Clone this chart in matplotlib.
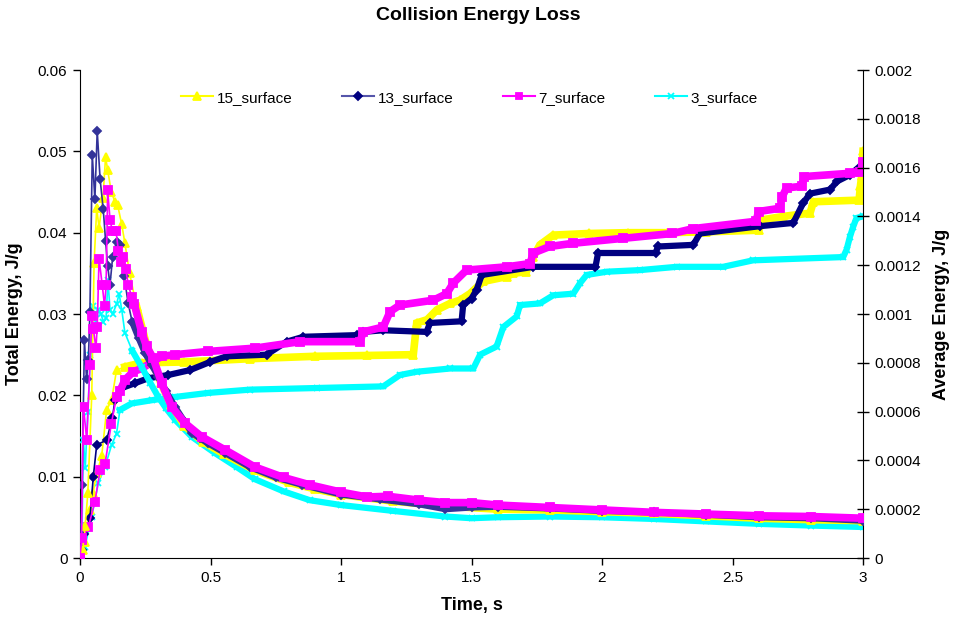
import numpy as np
import matplotlib
matplotlib.use("Agg")
import matplotlib.pyplot as plt
from matplotlib.lines import Line2D
from matplotlib.ticker import FuncFormatter, MultipleLocator

plt.rcParams['font.family'] = ['Liberation Sans', 'DejaVu Sans']

# ---- total energy (left axis, J/g) ----
t_tot15 = [0, 0.02, 0.038, 0.05, 0.064, 0.083, 0.102, 0.121, 0.14, 0.172, 0.236, 0.4, 0.65, 0.9, 1.1,
           1.277, 1.29, 1.33, 1.367, 1.418, 1.456, 1.494, 1.545, 1.635, 1.66, 1.71, 1.737, 1.762, 1.813,
           1.95, 2.1, 2.25, 2.4, 2.6, 2.618, 2.695, 2.797, 2.81, 2.985, 2.99, 2.995, 3.0]
tot15 = [0, 0.002, 0.0059, 0.008, 0.0104, 0.0125, 0.0182, 0.0194, 0.0231, 0.0235, 0.024, 0.0241, 0.0245,
         0.0248, 0.0249, 0.025, 0.0289, 0.0293, 0.0305, 0.0313, 0.0317, 0.0325, 0.034, 0.0346, 0.035,
         0.0352, 0.037, 0.0385, 0.0397, 0.0399, 0.04, 0.04, 0.0401, 0.0403, 0.0416, 0.042, 0.0424, 0.0438,
         0.044, 0.0457, 0.047, 0.050]

t_tot13 = [0, 0.008, 0.017, 0.038, 0.051, 0.064, 0.102, 0.124, 0.134, 0.16, 0.211, 0.262, 0.338, 0.421,
           0.498, 0.562, 0.715, 0.792, 0.856, 1.06, 1.085, 1.162, 1.328, 1.341, 1.462, 1.468, 1.5, 1.52,
           1.539, 1.737, 1.975, 1.985, 2.205, 2.215, 2.35, 2.375, 2.605, 2.733, 2.77, 2.797, 2.874, 2.9,
           2.95, 3.0]
tot13 = [0, 0.001, 0.003, 0.0049, 0.01, 0.0139, 0.0145, 0.0172, 0.0194, 0.0209, 0.0215, 0.0221, 0.0225,
         0.0231, 0.0241, 0.0248, 0.025, 0.0266, 0.0272, 0.0274, 0.0278, 0.028, 0.0278, 0.0289, 0.0291,
         0.0311, 0.0319, 0.033, 0.0348, 0.0358, 0.0358, 0.0375, 0.0375, 0.0383, 0.0385, 0.0399, 0.0408,
         0.0412, 0.0436, 0.0448, 0.0453, 0.0463, 0.0471, 0.0485]

t_tot7 = [0, 0.006, 0.032, 0.057, 0.077, 0.096, 0.12, 0.14, 0.153, 0.172, 0.204, 0.236, 0.313, 0.364,
          0.492, 0.67, 0.843, 1.073, 1.085, 1.162, 1.188, 1.226, 1.354, 1.405, 1.43, 1.481, 1.635, 1.724,
          1.737, 1.8, 1.89, 2.08, 2.27, 2.35, 2.59, 2.6, 2.682, 2.69, 2.707, 2.765, 2.775, 2.95, 2.99, 3.0]
tot7 = [0, 0.0022, 0.0038, 0.0069, 0.0108, 0.0116, 0.0165, 0.0198, 0.0205, 0.0219, 0.0229, 0.0233, 0.0248,
        0.025, 0.0254, 0.0258, 0.0266, 0.0266, 0.0278, 0.0284, 0.0303, 0.0311, 0.0317, 0.0325, 0.0338,
        0.0354, 0.0358, 0.0362, 0.0375, 0.0383, 0.0387, 0.0393, 0.0399, 0.0405, 0.0414, 0.0426, 0.043,
        0.0444, 0.0455, 0.0457, 0.0469, 0.0473, 0.0474, 0.0487]

t_tot3 = [0, 0.019, 0.045, 0.07, 0.096, 0.121, 0.14, 0.153, 0.198, 0.275, 0.364, 0.492, 0.651, 0.907,
          1.162, 1.226, 1.29, 1.418, 1.507, 1.533, 1.596, 1.622, 1.673, 1.686, 1.762, 1.813, 1.89, 1.916,
          1.941, 2.018, 2.146, 2.286, 2.464, 2.579, 2.924, 2.937, 2.95, 2.962, 2.975, 3.0]
tot3 = [0, 0.0014, 0.0051, 0.0092, 0.0112, 0.0139, 0.0153, 0.0182, 0.019, 0.0194, 0.0198, 0.0203, 0.0207,
        0.0209, 0.0211, 0.0225, 0.0229, 0.0233, 0.0233, 0.025, 0.026, 0.0284, 0.0297, 0.0311, 0.0313,
        0.0323, 0.0325, 0.0338, 0.0348, 0.0352, 0.0354, 0.0358, 0.0358, 0.0366, 0.037, 0.0379, 0.0395,
        0.0407, 0.0418, 0.042]

# ---- average energy (right axis, J/g) ----
t_avg15 = [0, 0.01, 0.02, 0.03, 0.045, 0.054, 0.064, 0.073, 0.088, 0.098, 0.106, 0.12, 0.134, 0.144, 0.16,
           0.172, 0.19, 0.217, 0.25, 0.28, 0.31, 0.35, 0.4, 0.47, 0.55, 0.67, 0.8, 0.9, 1.0, 1.2, 1.4,
           1.6, 1.8, 2.0, 2.2, 2.4, 2.6, 2.8, 3.0]
avg15 = [0, 0.000033, 0.000133, 0.000267, 0.000667, 0.00121, 0.001433, 0.001353, 0.001477, 0.001643,
         0.00159, 0.0015, 0.00146, 0.001447, 0.001367, 0.00129, 0.001167, 0.00103, 0.000893, 0.0008,
         0.000717, 0.000627, 0.000543, 0.000477, 0.000427, 0.00036, 0.00031, 0.000283, 0.00026, 0.000233,
         0.000213, 0.0002, 0.000197, 0.00019, 0.000183, 0.000173, 0.000163, 0.000157, 0.000153]

t_avg13 = [0, 0.008, 0.017, 0.025, 0.032, 0.038, 0.047, 0.057, 0.066, 0.077, 0.089, 0.098, 0.106, 0.115,
           0.125, 0.14, 0.153, 0.169, 0.184, 0.2, 0.225, 0.249, 0.275, 0.3, 0.33, 0.364, 0.4, 0.428, 0.46,
           0.49, 0.556, 0.65, 0.75, 0.85, 1.0, 1.15, 1.3, 1.4, 1.5, 1.6, 1.8, 2.0, 2.2, 2.4, 2.6, 2.8, 3.0]
avg13 = [0, 0.0003, 0.000893, 0.000733, 0.00081, 0.001007, 0.001653, 0.00147, 0.00175, 0.001553, 0.00143,
         0.0013, 0.001197, 0.00112, 0.001233, 0.001297, 0.001283, 0.001157, 0.001047, 0.000967, 0.0009,
         0.00084, 0.00079, 0.000743, 0.000683, 0.00062, 0.00056, 0.000513, 0.00049, 0.00047, 0.00043,
         0.000373, 0.00033, 0.0003, 0.00026, 0.00024, 0.00022, 0.0002, 0.000207, 0.00021, 0.000203,
         0.000193, 0.000187, 0.000177, 0.000167, 0.000163, 0.000153]

t_avg7 = [0, 0.006, 0.013, 0.026, 0.038, 0.045, 0.051, 0.061, 0.066, 0.073, 0.085, 0.094, 0.1, 0.106,
          0.115, 0.124, 0.138, 0.147, 0.157, 0.166, 0.175, 0.185, 0.198, 0.208, 0.236, 0.255, 0.28, 0.313,
          0.351, 0.402, 0.466, 0.556, 0.67, 0.78, 0.88, 1.0, 1.1, 1.18, 1.3, 1.4, 1.5, 1.6, 1.8, 2.0, 2.2,
          2.4, 2.6, 2.8, 3.0]
avg7 = [0, 0.000083, 0.00062, 0.000483, 0.00079, 0.00099, 0.00094, 0.00086, 0.000947, 0.001227, 0.00112,
        0.001033, 0.001117, 0.001507, 0.001387, 0.00134, 0.00134, 0.00126, 0.001213, 0.001233, 0.001183,
        0.00112, 0.00107, 0.00104, 0.000927, 0.000867, 0.00082, 0.000717, 0.00062, 0.000553, 0.000497,
        0.000443, 0.000373, 0.00033, 0.0003, 0.00027, 0.00025, 0.000253, 0.000237, 0.000227, 0.000227,
        0.000217, 0.000207, 0.000197, 0.000187, 0.00018, 0.000173, 0.00017, 0.000163]

t_avg3 = [0, 0.008, 0.013, 0.02, 0.03, 0.04, 0.05, 0.06, 0.07, 0.08, 0.09, 0.1, 0.107, 0.115, 0.125,
          0.14, 0.15, 0.16, 0.172, 0.2, 0.236, 0.27, 0.3, 0.33, 0.364, 0.428, 0.517, 0.6, 0.67, 0.78, 0.88,
          1.0, 1.2, 1.4, 1.5, 1.6, 1.8, 2.0, 2.2, 2.4, 2.6, 2.8, 3.0]
avg3 = [0, 0.000133, 0.000483, 0.000367, 0.0006, 0.000833, 0.001033, 0.00095, 0.001017, 0.001, 0.000967,
        0.000983, 0.00114, 0.001017, 0.001, 0.00104, 0.001083, 0.001017, 0.000923, 0.00085, 0.000783,
        0.000717, 0.00066, 0.000613, 0.000567, 0.000497, 0.00043, 0.000373, 0.000323, 0.000273,
        0.000237, 0.000217, 0.000193, 0.00017, 0.000163, 0.000167, 0.00017, 0.000167, 0.00016, 0.00015,
        0.00014, 0.000133, 0.000127]

labels = ['15_surface', '13_surface', '7_surface', '3_surface']

# colour / marker per surface
styles = {
    '15_surface': dict(tot='#FFFF00', avg='#FFFF00', mk='^', ms=6, band=5.5),
    '13_surface': dict(tot='#000080', avg='#333399', mk='D', ms=4.5, band=4.5),
    '7_surface':  dict(tot='#FF00FF', avg='#FF00FF', mk='s', ms=5.5, band=5.5),
    '3_surface':  dict(tot='#00FFFF', avg='#00FFFF', mk='x', ms=5, band=4.5),
}

fig = plt.figure(figsize=(9.57, 6.25), dpi=100)
ax = fig.add_axes([80 / 957, 1 - 558 / 625, 783 / 957, 488 / 625])
ax2 = ax.twinx()


def draw(axis, t, v, color, st, z, start):
    t = np.asarray(t)
    v = np.asarray(v)
    axis.plot(t, v, color=color, lw=1.2, marker=st['mk'], ms=st['ms'], mew=1.3,
              mfc=color, mec=color, zorder=z)
    # thick band where the samples sit close together
    m = t >= start
    axis.plot(t[m], v[m], color=color, lw=st['band'], solid_joinstyle='miter', zorder=z)


tot_data = [(t_tot15, tot15), (t_tot13, tot13), (t_tot7, tot7), (t_tot3, tot3)]
avg_data = [(t_avg15, avg15), (t_avg13, avg13), (t_avg7, avg7), (t_avg3, avg3)]
zs = {'15_surface': 2, '13_surface': 3, '7_surface': 4, '3_surface': 1}

for lab, (tt, vv) in zip(labels, tot_data):
    st = styles[lab]
    draw(ax, tt, vv, st['tot'], st, zs[lab], 0.15)
for lab, (tt, vv) in zip(labels, avg_data):
    st = styles[lab]
    draw(ax2, tt, vv, st['avg'], st, zs[lab], 0.2)

ax.set_xlim(0, 3)
ax.set_ylim(0, 0.06)
ax2.set_ylim(0, 0.002)
ax.xaxis.set_major_locator(MultipleLocator(0.5))
ax.yaxis.set_major_locator(MultipleLocator(0.01))
ax2.yaxis.set_major_locator(MultipleLocator(0.0002))
fmt = FuncFormatter(lambda x, pos: '%g' % round(x, 6))
ax.xaxis.set_major_formatter(fmt)
ax.yaxis.set_major_formatter(fmt)
ax2.yaxis.set_major_formatter(fmt)

for a in (ax, ax2):
    a.spines['top'].set_visible(False)
ax.spines['right'].set_visible(False)
ax2.spines['left'].set_visible(False)
ax2.spines['bottom'].set_visible(False)

ax.tick_params(axis='both', direction='out', length=5, width=1, labelsize=11, pad=4)
ax2.tick_params(axis='y', direction='inout', length=8, width=1, labelsize=11, pad=4)

ax.set_xlabel('Time, s', fontsize=13, fontweight='bold', labelpad=9)
ax.set_ylabel('Total Energy, J/g', fontsize=13, fontweight='bold', labelpad=11)
ax2.set_ylabel('Average Energy, J/g', fontsize=13, fontweight='bold', labelpad=9)
fig.text(0.5, 1 - 16 / 625, 'Collision Energy Loss', ha='center', va='center',
         fontsize=14, fontweight='bold')

handles = []
for lab in labels:
    st = styles[lab]
    handles.append(Line2D([], [], color=st['avg'] if lab != '13_surface' else '#5555AA', lw=1.5,
                          marker=st['mk'], ms=st['ms'] - 0.5, mfc=st['tot'], mec=st['tot'], mew=1.3))
ax.legend(handles, labels, loc='center', bbox_to_anchor=(0.4975, 0.943), ncol=4, frameon=False,
          fontsize=11, handlelength=2.1, handletextpad=0.26, columnspacing=3.2)

fig.savefig('out.png', dpi=100)
